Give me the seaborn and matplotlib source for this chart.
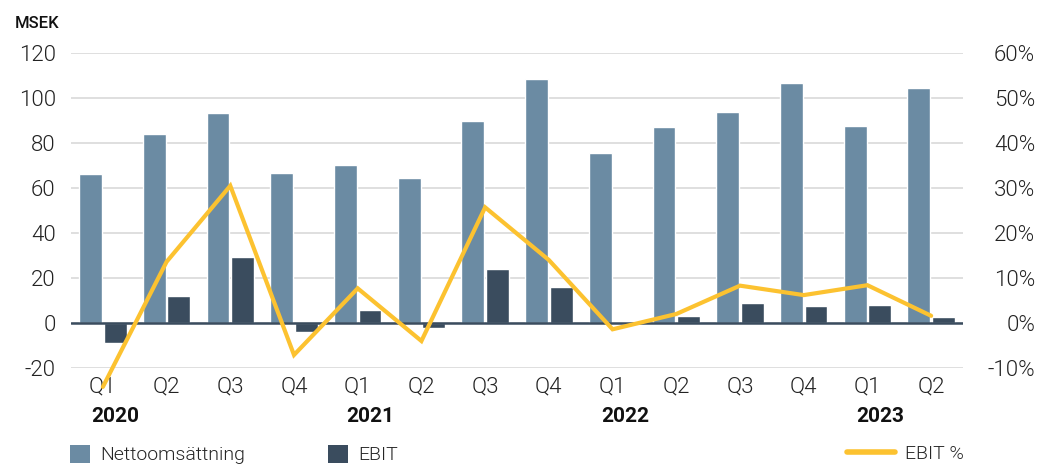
import numpy as np
import pandas as pd
import matplotlib
matplotlib.use("Agg")
import matplotlib.pyplot as plt
import matplotlib.transforms as mtransforms
from matplotlib.patches import Patch
from matplotlib.lines import Line2D
import seaborn as sns

# ---- data ----
periods = ["2020Q1", "2020Q2", "2020Q3", "2020Q4",
           "2021Q1", "2021Q2", "2021Q3", "2021Q4",
           "2022Q1", "2022Q2", "2022Q3", "2022Q4",
           "2023Q1", "2023Q2"]
quarter_labels = ["Q1", "Q2", "Q3", "Q4", "Q1", "Q2", "Q3", "Q4",
                  "Q1", "Q2", "Q3", "Q4", "Q1", "Q2"]
year_labels = ["2020", "", "", "", "2021", "", "", "",
               "2022", "", "", "", "2023", ""]
nettoomsattning = [66.2, 84.0, 93.3, 66.7, 70.2, 64.4, 89.8, 108.4,
                   75.6, 87.1, 93.8, 106.7, 87.6, 104.4]
ebit = [-8.9, 12.0, 29.3, -4.0, 5.8, -2.3, 24.0, 16.0,
        0.3, 3.1, 8.9, 7.6, 8.0, 2.7]
ebit_pct = [-14.2, 13.6, 30.5, -7.1, 7.7, -4.0, 25.7, 14.0,
            -1.4, 2.0, 8.3, 6.2, 8.4, 1.6]
left_ticks = [-20, 0, 20, 40, 60, 80, 100, 120]
right_ticks = [-10, 0, 10, 20, 30, 40, 50, 60]

C_NET = "#6b8ba3"
C_EBIT = "#3a4c5e"
C_LINE = "#fcc230"
C_GRID = "#d9d9d9"
C_TEXT = "#222222"

df = pd.DataFrame({
    "period": periods * 2,
    "series": ["Nettoomsättning"] * len(periods) + ["EBIT"] * len(periods),
    "value": nettoomsattning + ebit,
})

sns.set_theme(style="white")
plt.rcParams["font.family"] = ["Roboto", "DejaVu Sans"]
plt.rcParams["axes.unicode_minus"] = False

fig = plt.figure(figsize=(10.37, 4.68), dpi=100)
ax = fig.add_axes([71 / 1037, 1 - 368 / 468, (963 - 71) / 1037, (368 - 53) / 468])

sns.barplot(data=df, x="period", y="value", hue="series", order=periods,
            hue_order=["Nettoomsättning", "EBIT"],
            palette=[C_NET, C_EBIT], width=0.77, gap=0.07, errorbar=None,
            saturation=1, legend=False, ax=ax, zorder=2)

ax.set_ylim(-20, 120)
ax.set_yticks(left_ticks)
ax.set_xlim(-0.5, len(periods) - 0.5)
ax.yaxis.grid(True, color=C_GRID, lw=1.2)
ax.set_axisbelow(True)
ax.axhline(0, color=C_EBIT, lw=1.8, zorder=2.5)
for s in ax.spines.values():
    s.set_visible(False)
ax.set_xlabel("")
ax.set_ylabel("")
ax.set_xticks(range(len(periods)))
ax.set_xticklabels(quarter_labels)
ax.tick_params(axis="x", length=0, pad=6, labelsize=16, labelcolor=C_TEXT)
ax.tick_params(axis="y", length=0, pad=11, labelsize=16, labelcolor=C_TEXT)
for lab in ax.get_xticklabels() + ax.get_yticklabels():
    lab.set_fontweight(300)

ax2 = ax.twinx()
sns.lineplot(x=np.arange(len(periods)), y=ebit_pct, ax=ax2, color=C_LINE,
             lw=3, clip_on=False, solid_joinstyle="miter", zorder=5)
ax2.set_ylim(-10, 60)
ax2.set_yticks(right_ticks)
ax2.set_yticklabels([f"{t}%" for t in right_ticks])
ax2.set_xlim(-0.5, len(periods) - 0.5)
for s in ax2.spines.values():
    s.set_visible(False)
ax2.tick_params(axis="y", length=0, pad=52, labelsize=16, labelcolor=C_TEXT)
for lab in ax2.get_yticklabels():
    lab.set_horizontalalignment("right")
    lab.set_fontweight(300)

# year labels
trans = mtransforms.blended_transform_factory(ax.transData, ax.transAxes)
for i, y in enumerate(year_labels):
    if y:
        ax.text(i + 0.2, -0.125, y, transform=trans, ha="center", va="top",
                fontsize=15, fontweight="bold", color="#111111")

# unit label
fig.text(15 / 1037, 1 - 28 / 468, "MSEK", fontsize=12, fontweight="medium",
         color="#111111", ha="left", va="baseline")

# legends
leg_y = 1 - 437 / 468
common = dict(loc="upper left", frameon=False, borderaxespad=0,
              handletextpad=0.5, prop={"weight": 300, "size": 14})
fig.legend(handles=[Patch(facecolor=C_NET, edgecolor="none")],
           labels=["Nettoomsättning"], bbox_to_anchor=(62 / 1037, leg_y),
           handlelength=1.05, handleheight=1.05, **common)
fig.legend(handles=[Patch(facecolor=C_EBIT, edgecolor="none")],
           labels=["EBIT"], bbox_to_anchor=(320 / 1037, leg_y),
           handlelength=1.05, handleheight=1.05, **common)
fig.legend(handles=[Line2D([0], [0], color=C_LINE, lw=4)],
           labels=["EBIT %"], bbox_to_anchor=(839 / 1037, leg_y),
           handlelength=2.5, **common)

fig.savefig("out.png", dpi=100)
